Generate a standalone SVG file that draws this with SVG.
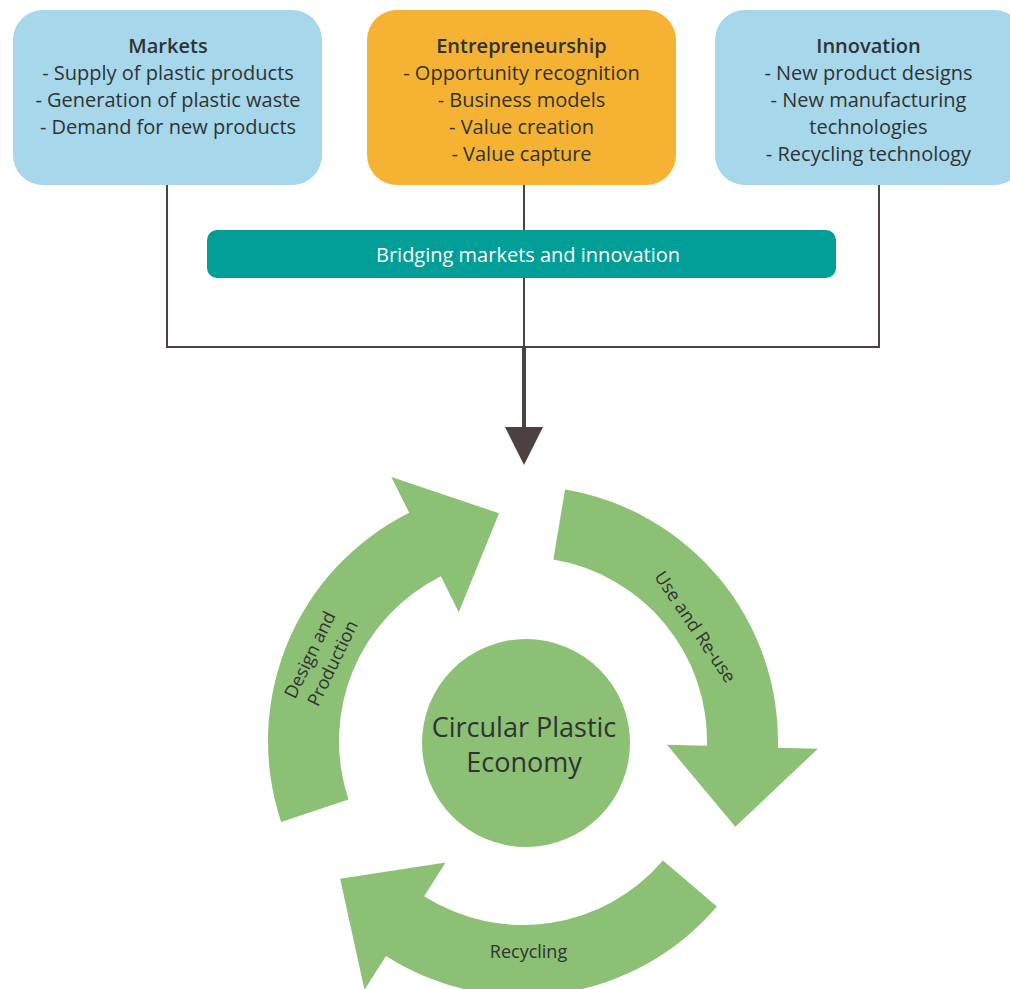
<svg xmlns="http://www.w3.org/2000/svg" width="1010" height="989" viewBox="0 0 1010 989">
  <defs>
    <style>
      .box-blue { fill: #a7d7eb; }
      .box-orange { fill: #f5b233; }
      .bridge { fill: #009e96; }
      .green { fill: #8cc074; }
      .t { font-family: "Open Sans", "Liberation Sans", sans-serif; fill: #2f3333; text-anchor: middle; }
      .box-text { font-size: 20px; }
      .title { font-weight: 600; }
      .label { font-size: 18px; }
      .center-text { font-size: 27px; }
      .bridge-text { font-family: "Open Sans", "Liberation Sans", sans-serif; font-size: 20px; fill: #ffffff; text-anchor: middle; }
      .conn { stroke: #4d4040; fill: none; stroke-width: 2; }
      .conn-thick { stroke: #4d4040; fill: none; stroke-width: 4; }
    </style>
    <marker id="arrowhead" viewBox="0 0 38 38" refX="13" refY="19" markerWidth="38" markerHeight="38" markerUnits="userSpaceOnUse" orient="auto">
      <path d="M0,0 L38,19 L0,38 Z" fill="#4d4040"/>
    </marker>
    <path id="cycle-arrow" d="M 778 741 A 255 255 0 0 1 558.49 993.52 L 564.06 1033.13 L 473.44 964.57 L 543.04 883.60 L 548.61 923.21 A 184 184 0 0 0 707 741 Z"/>
  </defs>

  <rect width="1010" height="989" fill="#ffffff"/>

  <g id="connectors">
    <polyline class="conn" points="167,185 167,347 879,347 879,185"/>
    <line class="conn" x1="524" y1="185" x2="524" y2="347"/>
    <line class="conn-thick" x1="524" y1="347" x2="524" y2="440" marker-end="url(#arrowhead)"/>
  </g>

  <g id="node-markets">
    <rect class="box-blue" x="13" y="10" width="309" height="175" rx="30" ry="30"/>
    <text class="t box-text title" x="168" y="53">Markets</text>
    <text class="t box-text" x="168" y="80">- Supply of plastic products</text>
    <text class="t box-text" x="168" y="107">- Generation of plastic waste</text>
    <text class="t box-text" x="168" y="134">- Demand for new products</text>
  </g>

  <g id="node-entrepreneurship">
    <rect class="box-orange" x="367" y="10" width="309" height="175" rx="30" ry="30"/>
    <text class="t box-text title" x="521.5" y="53">Entrepreneurship</text>
    <text class="t box-text" x="521.5" y="80">- Opportunity recognition</text>
    <text class="t box-text" x="521.5" y="107">- Business models</text>
    <text class="t box-text" x="521.5" y="134">- Value creation</text>
    <text class="t box-text" x="521.5" y="161">- Value capture</text>
  </g>

  <g id="node-innovation">
    <rect class="box-blue" x="715" y="10" width="309" height="175" rx="30" ry="30"/>
    <text class="t box-text title" x="868.5" y="53">Innovation</text>
    <text class="t box-text" x="868.5" y="80">- New product designs</text>
    <text class="t box-text" x="868.5" y="107">- New manufacturing</text>
    <text class="t box-text" x="868.5" y="134">technologies</text>
    <text class="t box-text" x="868.5" y="161">- Recycling technology</text>
  </g>

  <g id="node-bridging">
    <rect class="bridge" x="207" y="230" width="629" height="48" rx="10" ry="10"/>
    <text class="bridge-text" x="528" y="262">Bridging markets and innovation</text>
  </g>

  <g id="node-design-production">
    <use href="#cycle-arrow" class="green" transform="rotate(161.5 523 741)"/>
    <text class="t label" transform="translate(322,658) rotate(-64)">
      <tspan x="0" y="-6">Design and</tspan>
      <tspan x="0" y="18">Production</tspan>
    </text>
  </g>

  <g id="node-use-reuse">
    <use href="#cycle-arrow" class="green" transform="rotate(279.5 523 741)"/>
    <text class="t label" transform="translate(695,627) rotate(56)" y="6">Use and Re-use</text>
  </g>

  <g id="node-recycling">
    <use href="#cycle-arrow" class="green" transform="rotate(40.5 523 741)"/>
    <text class="t label" x="528.5" y="958">Recycling</text>
  </g>

  <g id="node-circular-economy">
    <circle class="green" cx="526" cy="743" r="104"/>
    <text class="t center-text" x="524" y="737">Circular Plastic</text>
    <text class="t center-text" x="524" y="772">Economy</text>
  </g>
</svg>
